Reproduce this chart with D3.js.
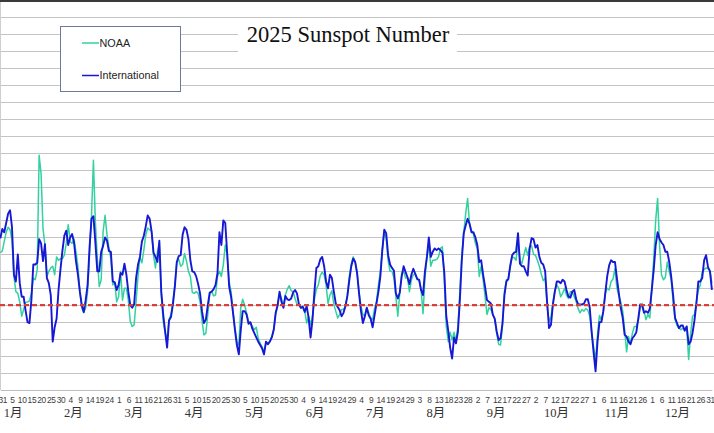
<!DOCTYPE html>
<html><head><meta charset="utf-8">
<script src="https://cdn.jsdelivr.net/npm/d3@7"></script>
<style>html,body{margin:0;padding:0;background:#fff;overflow:hidden}</style>
</head><body>
<svg id="c" width="714" height="433"></svg>
<script>
const titleText = "2025 Sunspot Number";
const seriesNames = ["NOAA", "International"];
const monthLabels = ["1月","2月","3月","4月","5月","6月","7月","8月","9月","10月","11月","12月"];
const startDate = "2024-12-30";
const firstTickDate = "2024-12-31";
const tickEveryDays = 5;
const yTicks = [20,40,60,80,100,120,140,160,180,200,220,240,260,280,300,320,340,360,380,400,420,440];
const refLevel = 100;

const noaa = [162,164,175,186,192,189,177,134,116,114,104,87,95,103,104,105,114,132,130,142,277,255,190,171,134,140,144,146,136,157,153,155,155,159,173,195,175,173,178,163,146,116,97,91,97,116,160,205,271,198,156,122,130,187,206,183,167,155,124,127,104,110,140,106,120,120,106,81,75,77,104,134,157,150,165,183,191,189,187,159,144,163,172,112,81,67,59,83,89,104,124,151,154,146,148,161,152,140,134,115,114,116,114,104,82,65,67,89,114,116,111,112,134,140,134,148,171,159,128,116,93,73,57,53,97,107,100,91,81,79,75,71,74,61,55,51,45,55,54,58,63,71,89,99,114,108,99,112,119,123,117,116,108,101,101,97,99,93,79,87,77,87,107,119,124,135,139,136,124,102,112,117,101,93,85,89,95,95,99,113,134,149,157,151,138,116,99,89,87,97,91,85,83,96,104,124,140,165,186,179,153,140,140,132,110,87,114,138,140,132,132,116,130,136,137,130,130,118,90,132,156,172,146,153,153,154,157,167,169,128,75,57,68,59,68,58,75,116,159,185,208,226,196,188,184,173,167,134,146,130,110,89,97,95,89,84,67,54,53,77,116,130,130,145,157,156,153,175,153,149,159,168,159,169,170,160,159,153,146,137,129,132,99,81,86,103,118,124,120,110,114,120,112,108,116,116,110,104,96,91,95,93,96,94,87,68,50,36,65,88,82,93,114,120,118,128,131,143,120,111,104,93,71,45,63,54,67,75,75,81,97,102,93,83,89,85,120,155,200,226,171,136,130,133,151,140,130,104,83,76,73,71,73,70,75,36,65,87,89,104,118,124,139,142,144,143,141,126];

const international = [179,190,186,197,208,212,192,136,128,160,126,110,110,94,80,79,106,148,148,150,178,173,152,172,132,126,112,57,74,84,118,142,164,182,188,171,180,184,174,152,136,116,100,92,106,124,168,202,205,174,140,140,163,170,180,176,164,163,128,127,118,124,138,136,149,136,116,100,97,101,132,148,157,175,182,193,206,202,187,162,157,151,176,116,89,69,50,82,86,101,122,151,158,159,183,192,189,178,153,140,139,134,125,114,93,79,83,100,115,116,119,124,138,186,171,200,197,161,122,110,91,71,53,42,71,93,93,89,78,80,72,67,62,57,53,49,42,57,54,57,62,71,91,100,116,104,97,111,107,106,108,115,118,114,101,97,98,92,99,85,62,83,116,144,146,154,157,146,128,120,136,132,116,102,98,94,87,91,99,111,130,146,155,151,138,114,93,79,87,97,88,84,74,88,102,116,134,165,189,185,159,148,144,141,114,108,115,134,146,139,133,125,136,143,137,131,130,118,112,140,157,180,157,163,167,165,167,165,162,138,87,70,50,37,62,55,69,106,153,185,194,202,196,186,186,180,171,151,153,136,122,106,104,102,89,84,69,59,61,79,112,128,131,147,159,162,163,185,149,146,146,140,135,167,179,178,168,171,157,150,148,140,104,73,77,101,116,128,128,126,130,128,118,110,109,116,118,107,101,101,101,102,107,107,97,68,44,22,57,80,80,93,114,134,147,153,151,151,132,114,97,85,65,63,57,54,61,64,68,84,101,100,91,93,91,96,118,142,171,186,178,174,171,163,163,151,134,112,85,79,73,76,76,70,75,54,57,67,82,102,128,128,132,153,159,145,140,118];

const W = 714, H = 433;
const svg = d3.select("#c");
const parse = d3.utcParse("%Y-%m-%d");
const d0 = parse(startDate);
const dates = noaa.map((_, k) => d3.utcDay.offset(d0, k));

const x = d3.scaleUtc().domain([dates[0], dates[dates.length - 1]]).range([0.36, 711.9]);
const y = d3.scaleLinear().domain([0, 460]).range([390, 0]);

svg.append("rect").attr("width", W).attr("height", H).attr("fill", "#fff");

// gridlines
const grid = svg.append("g")
  .call(d3.axisLeft(y).tickValues(yTicks).tickSize(-W).tickFormat(""));
grid.select(".domain").remove();
grid.selectAll("line").attr("stroke", "#c4c4c4").attr("stroke-width", 1)
  .attr("shape-rendering", "crispEdges");

// left edge line
svg.append("line").attr("x1", 0.5).attr("x2", 0.5).attr("y1", 0).attr("y2", y(0))
  .attr("stroke", "#cfcfcf");

// top dark border
svg.append("rect").attr("x", 0).attr("y", 0).attr("width", W).attr("height", 2).attr("fill", "#3a3a3a");

// x axis (days)
const dayTicks = d3.utcDay.range(parse(firstTickDate), d3.utcDay.offset(dates[dates.length - 1], 1), tickEveryDays);
const xa = svg.append("g").attr("transform", `translate(0,${y(0)})`)
  .call(d3.axisBottom(x).tickValues(dayTicks).tickSize(0).tickPadding(7).tickFormat(d3.utcFormat("%-d")));
xa.select(".domain").attr("stroke", "#bdbdbd").attr("stroke-width", 1.2);
xa.selectAll("text").attr("font-family", "'Liberation Sans', Arial, sans-serif")
  .attr("font-size", 8.4).attr("letter-spacing", "-0.35px").attr("fill", "#404040");

// month labels
const mx = d3.scaleBand().domain(monthLabels).range([-17.2, 707.6]);
const ma = svg.append("g").attr("transform", `translate(0,${y(0)})`)
  .call(d3.axisBottom(mx).tickSize(0).tickPadding(18));
ma.select(".domain").remove();
ma.selectAll("text").attr("font-family", "'Liberation Serif', 'Noto Sans CJK JP', serif")
  .attr("font-size", 12.5).attr("fill", "#333");

// series
const line = d3.line().x((d, k) => x(dates[k])).y(d => y(d));
svg.append("path").datum(noaa).attr("d", line).attr("fill", "none")
  .attr("stroke", "#33d1a0").attr("stroke-width", 1.5).attr("stroke-linejoin", "round");
svg.append("path").datum(international).attr("d", line).attr("fill", "none")
  .attr("stroke", "#1717d6").attr("stroke-width", 1.9).attr("stroke-linejoin", "round");

// reference dashed line
svg.append("line").attr("x1", 0).attr("x2", W).attr("y1", y(refLevel)).attr("y2", y(refLevel))
  .attr("stroke", "#d8413a").attr("stroke-width", 2.2).attr("stroke-dasharray", "5,3");

// title
svg.append("rect").attr("x", 238).attr("y", 20).attr("width", 219).attr("height", 38).attr("fill", "#fff");
svg.append("text").attr("x", 348).attr("y", 42).attr("text-anchor", "middle")
  .attr("font-family", "'Liberation Serif', 'DejaVu Serif', serif").attr("font-size", 22.5)
  .attr("fill", "#111").text(titleText);

// legend
const lg = svg.append("g");
lg.append("rect").attr("x", 60.5).attr("y", 26.5).attr("width", 120).attr("height", 65)
  .attr("fill", "#fff").attr("stroke", "#6f7a96").attr("stroke-width", 1);
const legendColors = ["#33d1a0", "#1717d6"];
const legendY = [43, 75.5];
seriesNames.forEach((n, k) => {
  lg.append("line").attr("x1", 82).attr("x2", 99).attr("y1", legendY[k]).attr("y2", legendY[k])
    .attr("stroke", legendColors[k]).attr("stroke-width", 1.5);
  lg.append("text").attr("x", 99.5).attr("y", legendY[k]).attr("dy", "0.35em")
    .attr("font-family", "'Liberation Sans', Arial, sans-serif").attr("font-size", 10.8)
    .attr("fill", "#222").text(n);
});
</script>
</body></html>
